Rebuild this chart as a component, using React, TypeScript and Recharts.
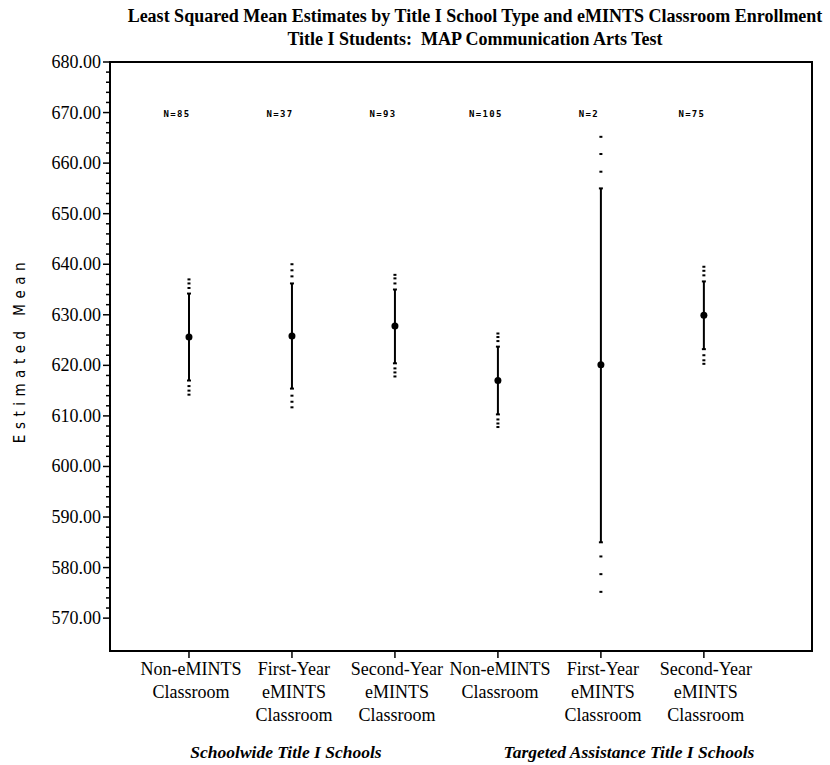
import { ComposedChart, Scatter, XAxis, YAxis, ErrorBar, ReferenceArea } from 'recharts';

const groupLabels = [
  ['Non-eMINTS', 'Classroom'],
  ['First-Year', 'eMINTS', 'Classroom'],
  ['Second-Year', 'eMINTS', 'Classroom'],
  ['Non-eMINTS', 'Classroom'],
  ['First-Year', 'eMINTS', 'Classroom'],
  ['Second-Year', 'eMINTS', 'Classroom'],
];
const xPositions = [1, 2, 3, 4, 5, 6];
const nCounts = [85, 37, 93, 105, 2, 75];
const means = [625.6, 625.8, 627.8, 617.0, 620.1, 629.9];
const lowerCI = [617.0, 615.4, 620.4, 610.3, 585.0, 623.2];
const upperCI = [634.2, 636.2, 635.0, 623.7, 655.0, 636.6];
const lowerA = [615.9, 614.0, 619.4, 609.3, 582.2, 622.0];
const upperA = [635.3, 637.6, 636.2, 624.8, 658.3, 637.8];
const lowerB = [615.0, 612.8, 618.6, 608.5, 578.7, 621.0];
const upperB = [636.2, 638.8, 637.2, 625.6, 661.8, 638.7];
const lowerC = [614.2, 611.7, 617.8, 607.8, 575.2, 620.3];
const upperC = [637.0, 640.0, 637.9, 626.3, 665.2, 639.5];
const yMajorTicks = [570, 580, 590, 600, 610, 620, 630, 640, 650, 660, 670, 680];
const nLabelY = 670;

const yAllTicks = yMajorTicks.flatMap((t, i) =>
  i < yMajorTicks.length - 1 ? [t, t + 2, t + 4, t + 6, t + 8] : [t]
);

const meanData = xPositions.map((x, i) => ({
  x,
  y: means[i],
  err: [means[i] - lowerCI[i], upperCI[i] - means[i]],
}));

const outerData = xPositions.flatMap((x, i) =>
  [lowerA[i], upperA[i], lowerB[i], upperB[i], lowerC[i], upperC[i]].map((y) => ({ x, y }))
);

const nData = xPositions.map((x, i) => ({ x, y: nLabelY, label: `N=${nCounts[i]}` }));

const serif = '"Liberation Serif", "Times New Roman", serif';

const YTick = (props: any) => {
  const { x, y, payload } = props;
  const major = yMajorTicks.includes(payload.value);
  return (
    <g>
      <line x1={x} x2={x - (major ? 7 : 4)} y1={y} y2={y} stroke="#000" strokeWidth={1.5} />
      {major && (
        <text x={x - 9} y={y} dy={6} textAnchor="end" fontFamily={serif} fontSize={18} fill="#000">
          {payload.value.toFixed(2)}
        </text>
      )}
    </g>
  );
};

const XTick = (props: any) => {
  const { x, y, payload } = props;
  const idx = xPositions.indexOf(payload.value);
  const lines = groupLabels[idx] || [];
  return (
    <g>
      <line x1={x} x2={x} y1={y} y2={y + 7} stroke="#000" strokeWidth={1.5} />
      <text x={x + 2} y={y + 24} textAnchor="middle" fontFamily={serif} fontSize={18} fill="#000">
        {lines.map((l, i) => (
          <tspan key={i} x={x + 2} dy={i === 0 ? 0 : 23}>
            {l}
          </tspan>
        ))}
      </text>
    </g>
  );
};

const OuterMark = (props: any) => (
  <rect x={props.cx - 1.5} y={props.cy - 1} width={3} height={2} fill="#000" />
);

const MeanDot = (props: any) => <circle cx={props.cx} cy={props.cy} r={3.5} fill="#000" />;

const NLabel = (props: any) => (
  <text
    x={props.cx - 12}
    y={props.cy}
    dy={4}
    textAnchor="middle"
    fontFamily='"DejaVu Sans Mono", monospace'
    fontWeight="bold"
    fontSize={9}
    letterSpacing={1.3}
    fill="#000"
  >
    {props.payload.label}
  </text>
);

export default function App() {
  return (
    <div style={{ position: 'absolute', left: 0, top: 0, width: 830, height: 765, background: '#fff' }}>
      <div
        style={{
          position: 'absolute',
          top: 5,
          left: 60,
          width: 830,
          textAlign: 'center',
          fontFamily: serif,
          fontWeight: 'bold',
          fontSize: 18,
          lineHeight: '23px',
        }}
      >
        <div>Least Squared Mean Estimates by Title I School Type and eMINTS Classroom Enrollment</div>
        <div>Title I Students:&nbsp; MAP Communication Arts Test</div>
      </div>
      <div
        style={{
          position: 'absolute',
          left: 20 - 110,
          top: 350 - 10,
          width: 220,
          height: 20,
          textAlign: 'center',
          transform: 'rotate(-90deg)',
          fontFamily: '"DejaVu Sans Condensed", "DejaVu Sans", sans-serif',
          fontSize: 15,
          letterSpacing: 5.5,
          lineHeight: '20px',
        }}
      >
        Estimated Mean
      </div>
      <div
        style={{
          position: 'absolute',
          top: 742,
          left: 186,
          width: 200,
          textAlign: 'center',
          fontFamily: serif,
          fontWeight: 'bold',
          fontStyle: 'italic',
          fontSize: 17.5,
        }}
      >
        Schoolwide Title I Schools
      </div>
      <div
        style={{
          position: 'absolute',
          top: 742,
          left: 479,
          width: 300,
          textAlign: 'center',
          fontFamily: serif,
          fontWeight: 'bold',
          fontStyle: 'italic',
          fontSize: 17.5,
        }}
      >
        Targeted Assistance Title I Schools
      </div>
      <ComposedChart
        width={830}
        height={765}
        margin={{ top: 62, right: 18, bottom: 34, left: 10 }}
        style={{ position: 'absolute', left: 0, top: 0 }}
      >
        <XAxis
          type="number"
          dataKey="x"
          domain={[0.233, 7.05]}
          ticks={xPositions}
          interval={0}
          height={80}
          tickSize={0}
          tickMargin={0}
          tickLine={false}
          tick={<XTick />}
          axisLine={{ stroke: '#000', strokeWidth: 2 }}
          allowDataOverflow
        />
        <YAxis
          type="number"
          dataKey="y"
          domain={[563.5, 680]}
          ticks={yAllTicks}
          interval={0}
          width={100}
          tickSize={0}
          tickMargin={0}
          tickLine={false}
          tick={<YTick />}
          axisLine={{ stroke: '#000', strokeWidth: 2 }}
          allowDataOverflow
        />
        <ReferenceArea
          x1={0.233}
          x2={7.05}
          y1={563.5}
          y2={680}
          fill="none"
          stroke="#000"
          strokeWidth={2}
          fillOpacity={0}
          ifOverflow="visible"
        />
        <Scatter data={outerData} shape={<OuterMark />} isAnimationActive={false} />
        <Scatter data={meanData} shape={<MeanDot />} isAnimationActive={false}>
          <ErrorBar dataKey="err" direction="y" width={2} stroke="#000" strokeWidth={2} isAnimationActive={false} />
        </Scatter>
        <Scatter data={nData} shape={<NLabel />} isAnimationActive={false} />
      </ComposedChart>
    </div>
  );
}
